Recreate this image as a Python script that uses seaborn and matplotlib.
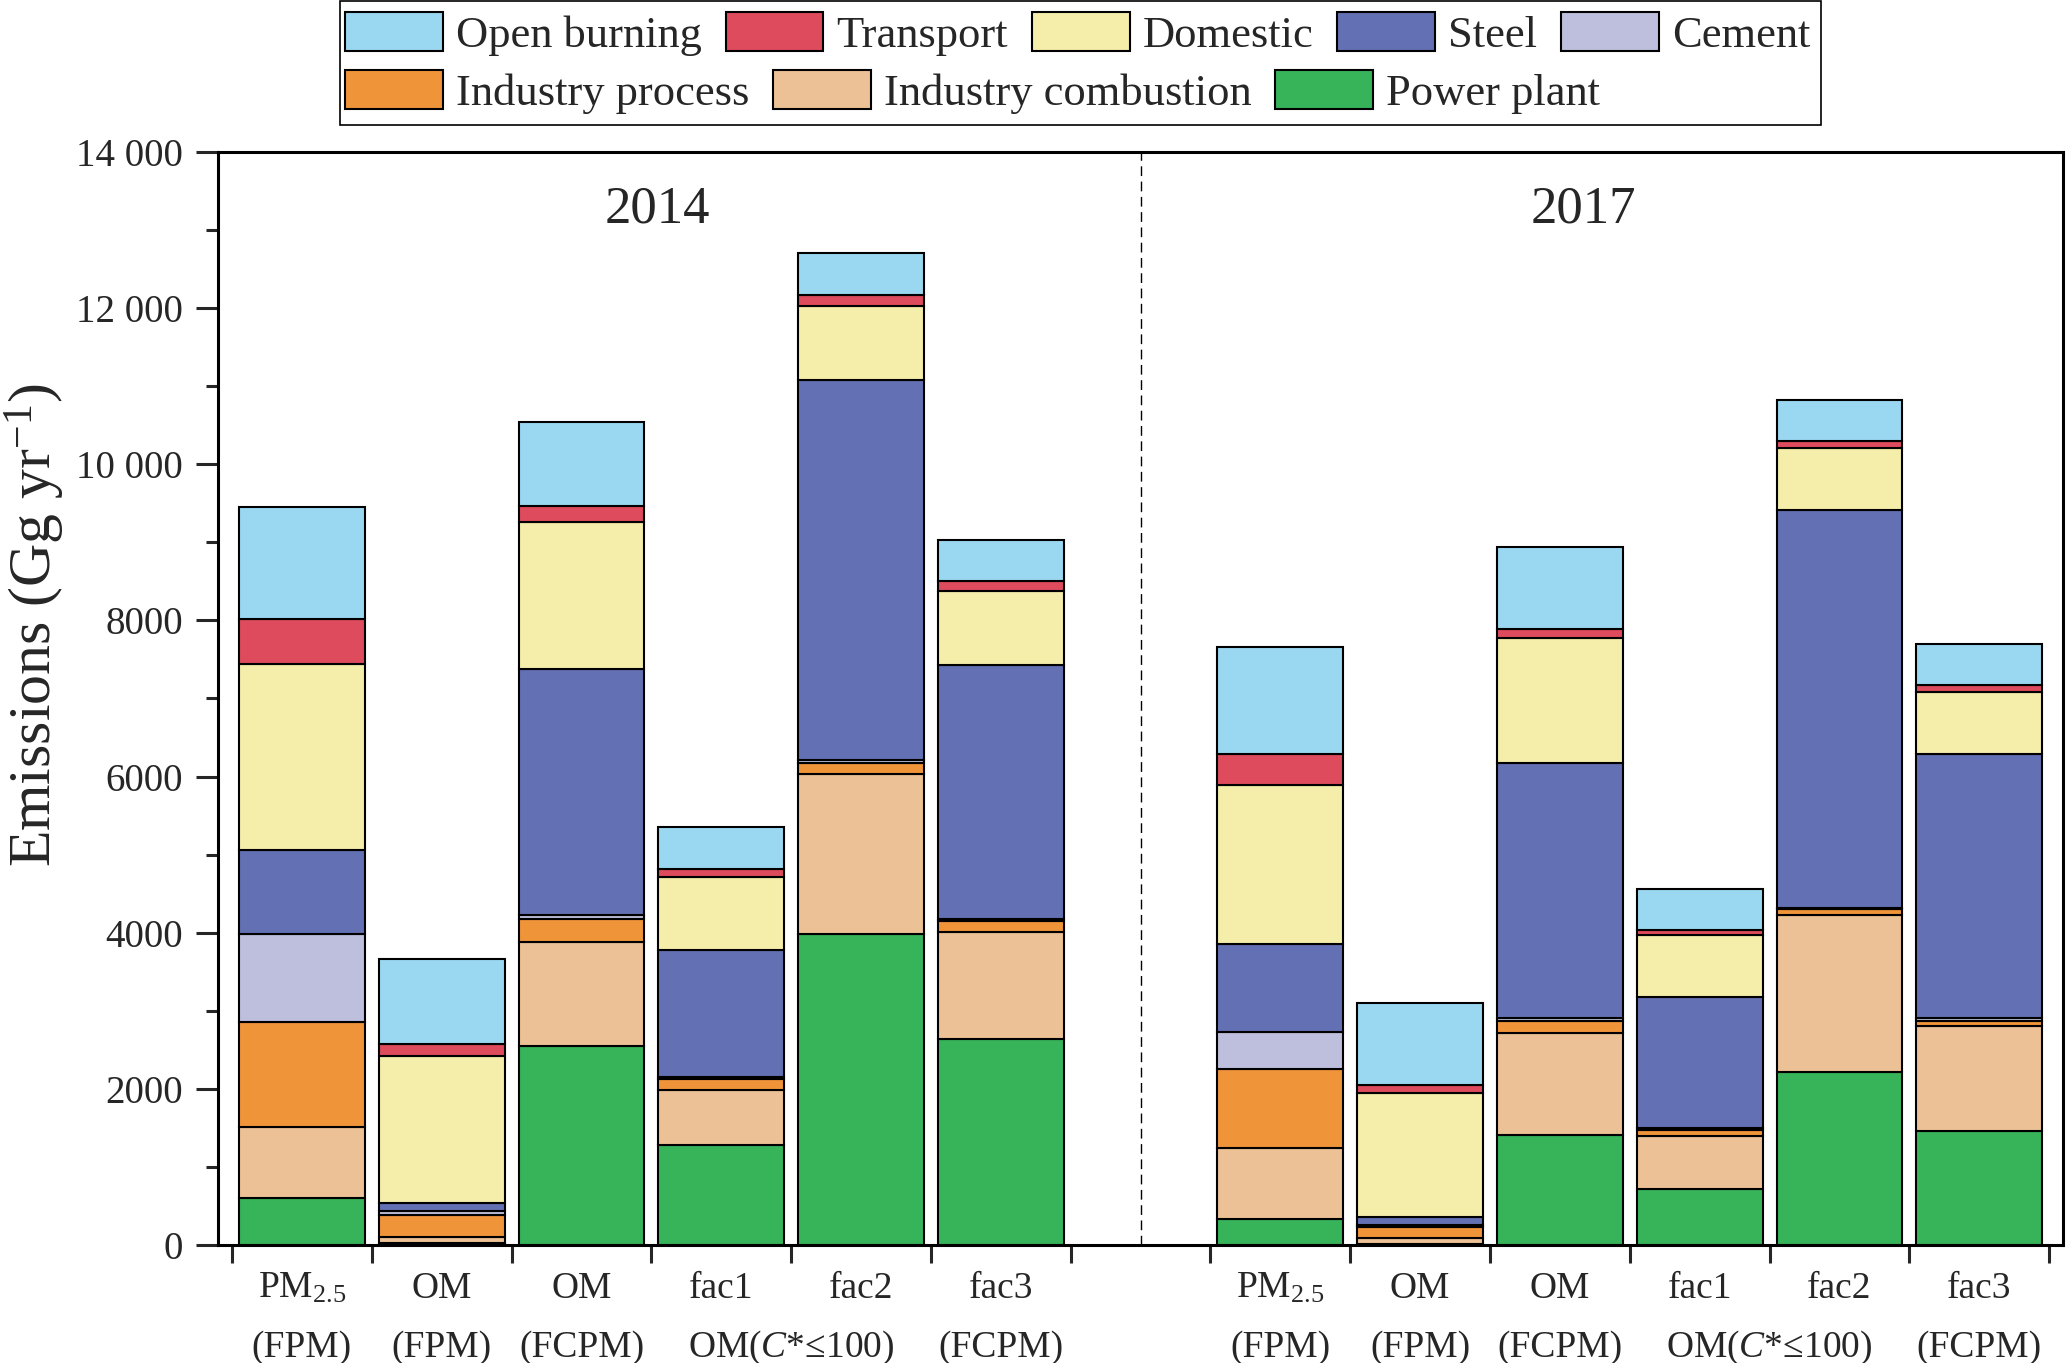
import numpy as np
import pandas as pd
import matplotlib
matplotlib.use("Agg")
import matplotlib.pyplot as plt
from matplotlib.patches import Patch, Rectangle
from matplotlib.ticker import MultipleLocator, FuncFormatter
import seaborn as sns

# Emission categories (six bars per year)
years = ["2014", "2017"]
labels_line1 = ["PM$_{\\mathregular{2.5}}$", "OM", "OM", "fac1", "fac2", "fac3"]
labels_line2 = ["(FPM)", "(FPM)", "(FCPM)", "", "", "(FCPM)"]
shared_label = "OM($\\mathit{C}$*≤100)"   # spans fac1 and fac2

sectors = ["Open burning", "Transport", "Domestic", "Steel", "Cement",
           "Industry process", "Industry combustion", "Power plant"]
colors = ["#9AD8F1", "#DE4B5C", "#F5EDAA", "#6370B3", "#BEBFDC",
          "#F0943A", "#EDC196", "#37B35A"]

# Gg yr-1 : first six values 2014, last six 2017
open_burning = [1430, 1088, 1078, 534, 538, 529, 1373, 1045, 1045, 517, 530, 517]
transport = [584, 149, 200, 106, 146, 128, 388, 98, 119, 72, 89, 93]
domestic = [2381, 1884, 1886, 939, 938, 951, 2048, 1587, 1596, 789, 798, 790]
steel = [1067, 100, 3150, 1622, 4878, 3243, 1127, 103, 3267, 1682, 5086, 3380]
cement = [1139, 50, 50, 30, 30, 30, 473, 25, 40, 25, 25, 40]
industry_process = [1335, 290, 290, 140, 140, 140, 1003, 150, 153, 77, 73, 70]
industry_combustion = [909, 70, 1336, 704, 2048, 1370, 913, 70, 1310, 682, 2010, 1344]
power_plant = [606, 30, 2547, 1280, 3989, 2641, 333, 15, 1408, 713, 2214, 1459]

series = [open_burning, transport, domestic, steel, cement,
          industry_process, industry_combustion, power_plant]

# bar slots: 1..6 for 2014, one empty slot, 8..13 for 2017
n = len(labels_line1)
positions = np.r_[np.arange(1, n + 1), np.arange(n + 2, 2 * n + 2)]

rows = []
for sector, vals in zip(sectors, series):
    for p, v in zip(positions, vals):
        rows.append({"pos": p, "sector": sector, "value": v})
df = pd.DataFrame(rows)

sns.set_theme(style="ticks")
plt.rcParams["font.family"] = ["Liberation Serif", "DejaVu Serif"]
plt.rcParams["mathtext.fontset"] = "custom"
plt.rcParams["mathtext.rm"] = "Liberation Serif"
plt.rcParams["mathtext.it"] = "Liberation Serif:italic"

fig = plt.figure(figsize=(20.67, 13.63), dpi=100)
ax = fig.add_axes([0.1055, 0.0866, 0.8926, 0.8019])

# stacked bars (seaborn stacks the last hue level at the bottom)
sns.histplot(data=df, x="pos", weights="value", hue="sector", hue_order=sectors,
             palette=colors, multiple="stack", discrete=True, shrink=0.9,
             edgecolor="black", linewidth=1.5, alpha=1, legend=False, ax=ax)

# drop the empty bin between the years (zero-height bars)
for patch in list(ax.patches):
    if patch.get_height() == 0:
        patch.remove()

ax.set_xlim(0.4, 13.6)
ax.set_ylim(0, 14000)

# separator between the two years
ax.axvline((positions[n - 1] + positions[n]) / 2, color="black", lw=1,
           ls=(0, (7, 4)), zorder=0)

ax.text(3.54, 13100, years[0], fontsize=38, ha="center", va="baseline")
ax.text(10.17, 13100, years[1], fontsize=38, ha="center", va="baseline")

# x axis: ticks at bar boundaries, labels drawn as text
edges = np.r_[positions[:n] - 0.5, positions[n - 1] + 0.5,
              positions[n:] - 0.5, positions[-1] + 0.5]
ax.set_xticks(edges)
ax.set_xticklabels([])
ax.tick_params(axis="x", direction="out", length=13, width=2.2, bottom=True, top=False)
trans = ax.get_xaxis_transform()
for k, p in enumerate(positions):
    ax.text(p, -0.0485, labels_line1[k % n], transform=trans, fontsize=27,
            ha="center", va="baseline")
    ax.text(p, -0.1025, labels_line2[k % n], transform=trans, fontsize=27,
            ha="center", va="baseline")
for start in (0, n):
    mid = (positions[start + 3] + positions[start + 4]) / 2
    ax.text(mid, -0.1025, shared_label, transform=trans, fontsize=27,
            ha="center", va="baseline")

# y axis
ax.yaxis.set_major_locator(MultipleLocator(2000))
ax.yaxis.set_minor_locator(MultipleLocator(1000))
ax.yaxis.set_major_formatter(FuncFormatter(
    lambda v, _: f"{int(v):,}".replace(",", " ") if v >= 10000 else f"{int(v)}"))
ax.tick_params(axis="y", which="major", direction="out", length=15.5, width=2.2,
               pad=10, labelsize=28, left=True, right=False)
ax.tick_params(axis="y", which="minor", direction="out", length=8.4, width=2.2,
               left=True, right=False)
ax.set_xlabel("")
ax.set_ylabel("Emissions (Gg yr$^{\\mathregular{-1}}$)", fontsize=43)
ax.yaxis.set_label_coords(-0.082, 0.567)

for sp in ax.spines.values():
    sp.set_visible(True)
    sp.set_color("black")
    sp.set_linewidth(2.2)

# legend: two left-aligned rows inside one frame
handles = [Patch(facecolor=c, edgecolor="black", linewidth=1.5, label=s)
           for s, c in zip(sectors, colors)]
leg_kw = dict(frameon=False, fontsize=32, handlelength=2.2, handleheight=0.95,
              handletextpad=0.3, columnspacing=0.53, borderpad=0, borderaxespad=0,
              loc="center left")
fig.legend(handles=handles[:5], ncol=5, bbox_to_anchor=(345 / 2067, 1 - 34 / 1363), **leg_kw)
fig.legend(handles=handles[5:], ncol=3, bbox_to_anchor=(345 / 2067, 1 - 92 / 1363), **leg_kw)
fig.patches.append(Rectangle((340 / 2067, 1238 / 1363), 1481 / 2067, 124 / 1363,
                             transform=fig.transFigure, fill=False,
                             edgecolor="black", lw=1.2))

fig.savefig("out.png", dpi=100)
